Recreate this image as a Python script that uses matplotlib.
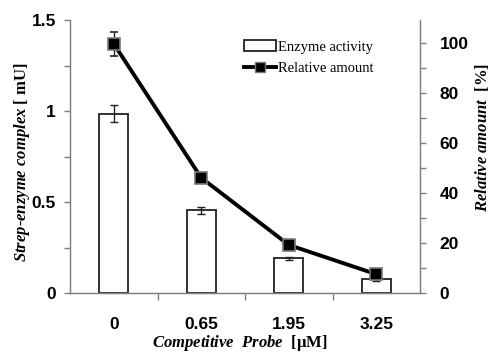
import matplotlib
matplotlib.use("Agg")
import matplotlib.pyplot as plt
from matplotlib.lines import Line2D
import numpy as np

categories = ["0", "0.65", "1.95", "3.25"]
enzyme_activity = [0.985, 0.455, 0.19, 0.078]
enzyme_err = [0.048, 0.02, 0.01, 0.01]
relative_amount = [99.5, 46.0, 19.2, 7.5]
relative_err = [4.8, 2.0, 1.0, 1.0]
left_ticks = [0, 0.5, 1, 1.5]
left_ticklabels = ["0", "0.5", "1", "1.5"]
right_ticks = [0, 20, 40, 60, 80, 100]

plt.rcParams["mathtext.fontset"] = "custom"
plt.rcParams["mathtext.rm"] = "Liberation Serif:bold"
plt.rcParams["mathtext.it"] = "Liberation Serif:italic:bold"
plt.rcParams["mathtext.bf"] = "Liberation Serif:bold"

gray = "#808080"
fig = plt.figure(figsize=(4.94, 3.55), dpi=100)
ax = fig.add_axes([70/494, 1-293/355, 350/494, 273/355])
x = np.arange(len(categories))

bars = ax.bar(x, enzyme_activity, width=0.33, color="white", edgecolor="#222222",
              linewidth=1.3, yerr=enzyme_err, capsize=3,
              error_kw=dict(ecolor="#222222", elinewidth=1, capthick=1),
              label="Enzyme activity", zorder=2)
ax.set_xlim(-0.5, 3.5)
ax.set_ylim(0, 1.5)
ax.set_yticks(left_ticks)
ax.set_yticklabels(left_ticklabels)
ax.set_yticks([0.25, 0.75, 1.25], minor=True)
ax.set_xticks(x)
ax.set_xticklabels(categories)
ax.set_xticks([0.5, 1.5, 2.5], minor=True)
ax.tick_params(axis="x", which="major", length=0, pad=17)
ax.tick_params(axis="x", which="minor", length=5, color=gray, width=1)
ax.tick_params(axis="y", which="both", length=4, color=gray, width=1, direction="out", pad=6)
for lbl in ax.get_xticklabels() + ax.get_yticklabels():
    lbl.set_fontfamily("Liberation Sans")
    lbl.set_fontweight("bold")
    lbl.set_fontsize(12.5)
ax.spines["top"].set_visible(False)
for s in ["left", "bottom", "right"]:
    ax.spines[s].set_color(gray)
    ax.spines[s].set_linewidth(1)

ax2 = ax.twinx()
ax2.set_ylim(0, 109)
ax2.errorbar(x, relative_amount, yerr=relative_err, color="black", linewidth=2.8,
             marker="s", markersize=8.5, markerfacecolor="black",
             markeredgecolor="#777777", markeredgewidth=1.2,
             ecolor="#222222", elinewidth=1, capsize=3, capthick=1)
ax2.set_yticks(right_ticks)
ax2.set_yticks([10, 30, 50, 70, 90], minor=True)
ax2.tick_params(axis="y", which="both", length=4, color=gray, width=1, direction="out", pad=10)
for lbl in ax2.get_yticklabels():
    lbl.set_fontfamily("Liberation Sans")
    lbl.set_fontweight("bold")
    lbl.set_fontsize(12.5)
ax2.spines["top"].set_visible(False)
for s in ["left", "bottom", "right"]:
    ax2.spines[s].set_color(gray)

lab_font = dict(family="Liberation Serif", style="italic", weight="bold", size=12)
ax.set_ylabel(r"Strep-enzyme complex $\mathrm{[\ mU]}$", fontdict=lab_font)
ax.yaxis.set_label_coords(-0.11, 0.48)
ax2.set_ylabel(r"Relative amount  $\mathrm{[\%]}$", fontdict=lab_font)
ax2.yaxis.set_label_coords(1.152, 0.568)
ax.set_xlabel(r"Competitive  Probe  $\mathrm{[μM]}$", fontdict=lab_font)
ax.xaxis.set_label_coords(0.486, -0.148)

line_handle = Line2D([], [], color="black", linewidth=2.8, marker="s", markersize=6.5,
                     markerfacecolor="black", markeredgecolor="#777777", markeredgewidth=1)
leg = ax.legend([bars, line_handle], ["Enzyme activity", "Relative amount"],
                loc="upper left", bbox_to_anchor=(0.48, 0.947), frameon=False,
                prop=dict(family="Liberation Serif", size=10.5), handlelength=2.2,
                handletextpad=0.15, labelspacing=0.6, borderaxespad=0)
leg.set_zorder(5)

fig.savefig("out.png", dpi=100)
